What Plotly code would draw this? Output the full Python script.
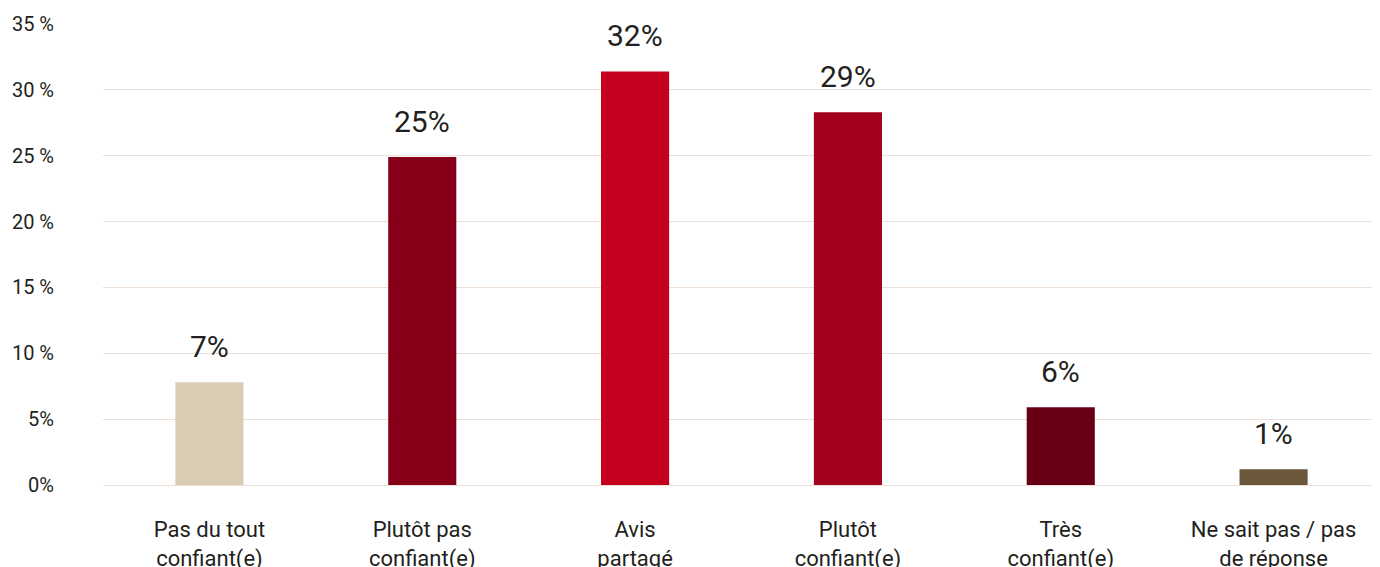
import plotly.graph_objects as go

# Data
categories = [
    "Pas du tout<br>confiant(e)",
    "Plutôt pas<br>confiant(e)",
    "Avis<br>partagé",
    "Plutôt<br>confiant(e)",
    "Très<br>confiant(e)",
    "Ne sait pas / pas<br>de réponse",
]
values = [7.8, 24.9, 31.4, 28.3, 5.9, 1.2]
labels = ["7%", "25%", "32%", "29%", "6%", "1%"]
bar_colors = ["#d9ccb4", "#87001a", "#c4001e", "#a2001c", "#680015", "#6b573a"]

tick_vals = [0, 5, 10, 15, 20, 25, 30, 35]
tick_text = ["0%", "5%", "10 %", "15 %", "20 %", "25 %", "30 %", "35 %"]

FONT = "Roboto, DejaVu Sans, sans-serif"
TEXT = "#231f20"
GRID = "#ecdfd5"

fig = go.Figure(go.Bar(
    x=categories, y=values,
    marker=dict(color=bar_colors, line=dict(width=0)),
    width=0.32,
    hoverinfo="skip",
))

for c, v, t in zip(categories, values, labels):
    fig.add_annotation(
        x=c, y=v, text=t, showarrow=False,
        yanchor="bottom", yshift=16,
        font=dict(family=FONT, size=30, color=TEXT),
    )

# page body has an 8px margin, so offsets are compensated in the margins
fig.update_layout(
    width=1380, height=567,
    paper_bgcolor="white", plot_bgcolor="white",
    margin=dict(l=95, r=8, t=16, b=90),
    showlegend=False,
    font=dict(family=FONT, color=TEXT),
    xaxis=dict(
        tickfont=dict(size=22, color=TEXT),
        showgrid=False, showline=False, zeroline=False,
        ticks="", ticklabelstandoff=29, automargin=False,
    ),
    yaxis=dict(
        range=[0, 35],
        tickvals=tick_vals, ticktext=tick_text,
        tickfont=dict(size=20, color=TEXT),
        gridcolor=GRID, gridwidth=1,
        zeroline=True, zerolinecolor=GRID, zerolinewidth=1,
        showline=False, ticks="", ticklabelstandoff=48, automargin=False,
    ),
)

fig.write_html("out.html")
